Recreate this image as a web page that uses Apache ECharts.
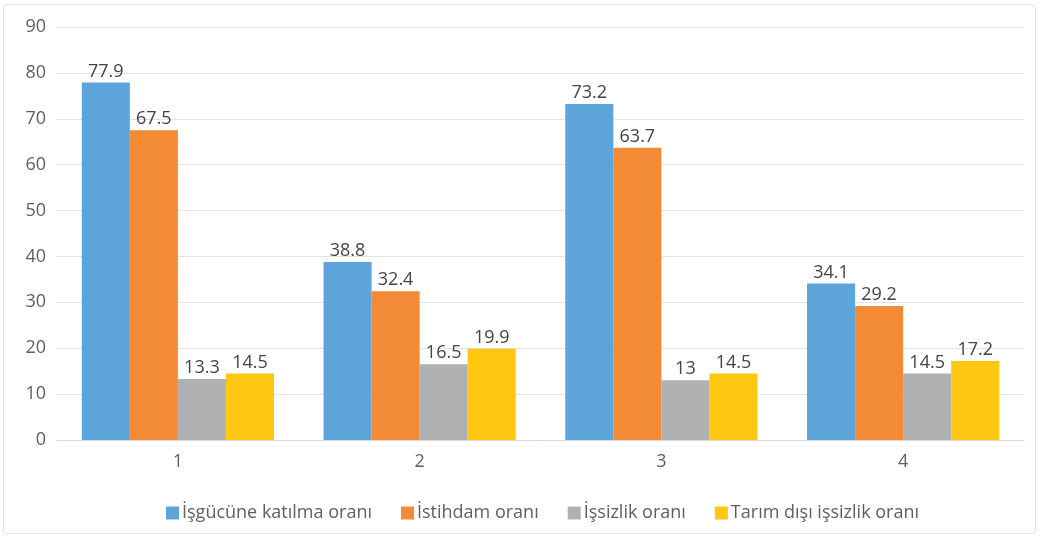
<!DOCTYPE html>
<html>
<head>
<meta charset="utf-8">
<script src="https://cdn.jsdelivr.net/npm/echarts@6/dist/echarts.min.js"></script>
<style>
  html, body { margin: 0; padding: 0; background: #fff; }
  #frame { position: absolute; left: 3px; top: 4px; width: 1033px; height: 530px;
           border: 1px solid #e4e4e4; border-radius: 4px; box-sizing: border-box; }
  #chart { position: absolute; left: 0; top: 0; width: 1043px; height: 541px; }
</style>
</head>
<body>
<div id="frame"></div>
<div id="chart"></div>
<script>
const categories = ['1', '2', '3', '4'];
const seriesNames = ['İşgücüne katılma oranı', 'İstihdam oranı', 'İşsizlik oranı', 'Tarım dışı işsizlik oranı'];
const participation = [77.9, 38.8, 73.2, 34.1];
const employment = [67.5, 32.4, 63.7, 29.2];
const unemployment = [13.3, 16.5, 13, 14.5];
const nonFarmUnemployment = [14.5, 19.9, 14.5, 17.2];
const yTicks = [0, 10, 20, 30, 40, 50, 60, 70, 80, 90];

const colors = ['#5CA4DA', '#F38A36', '#AEB0B1', '#FEC812'];
const values = [participation, employment, unemployment, nonFarmUnemployment];
const textColor = '#5f5f5f';
const font = '"Open Sans", "Noto Sans", sans-serif';

const chart = echarts.init(document.getElementById('chart'), null, { renderer: 'canvas' });
chart.setOption({
  animation: false,
  color: colors,
  textStyle: { fontFamily: font },
  grid: { left: 57, right: 19, top: 27, bottom: 101 },
  legend: {
    bottom: 14,
    left: 161,
    itemWidth: 13,
    itemHeight: 13,
    itemGap: 29,
    icon: 'rect',
    textStyle: { color: textColor, fontSize: 18, fontFamily: font, padding: [0, 0, 0, -2] },
    data: seriesNames
  },
  xAxis: {
    type: 'category',
    data: categories,
    axisLine: { lineStyle: { color: '#d9d9d9', width: 1 } },
    axisTick: { show: false },
    axisLabel: { color: textColor, fontSize: 18, margin: 13, fontFamily: font }
  },
  yAxis: {
    type: 'value',
    min: yTicks[0],
    max: yTicks[yTicks.length - 1],
    interval: 10,
    axisLine: { show: false },
    axisTick: { show: false },
    axisLabel: { color: textColor, fontSize: 18, margin: 11, fontFamily: font },
    splitLine: { lineStyle: { color: '#e3e3e3', width: 1 } }
  },
  series: seriesNames.map((name, i) => ({
    name: name,
    type: 'bar',
    data: values[i],
    barGap: '0%',
    barCategoryGap: '20.5%',
    itemStyle: { color: colors[i] },
    label: {
      show: true,
      position: 'top',
      distance: 2,
      color: '#444444',
      fontSize: 18,
      fontFamily: font
    }
  }))
});
</script>
</body>
</html>
